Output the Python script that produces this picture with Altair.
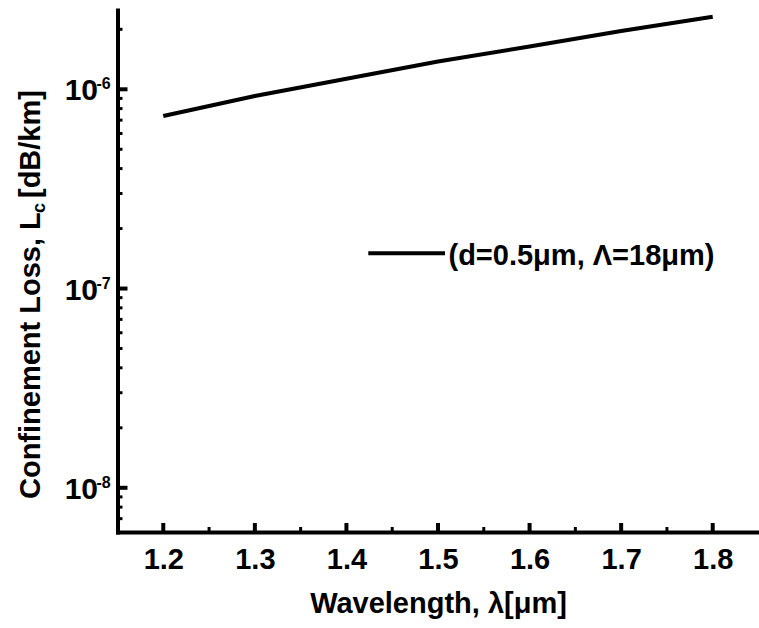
import altair as alt
import pandas as pd

# Confinement loss of the fibre versus wavelength
wavelength = [1.2, 1.3, 1.4, 1.5, 1.6, 1.7, 1.8]
loss = [7.35e-7, 9.26e-7, 1.13e-6, 1.38e-6, 1.64e-6, 1.96e-6, 2.31e-6]
series_label = "(d=0.5μm, Λ=18μm)"

# Tick positions (major and minor)
x_major = [1.2, 1.3, 1.4, 1.5, 1.6, 1.7, 1.8]
x_minor = [1.25, 1.35, 1.45, 1.55, 1.65, 1.75]
y_major = [1e-8, 1e-7, 1e-6]
y_exponents = ["-8", "-7", "-6"]
y_minor = [7e-9, 8e-9, 9e-9,
           2e-8, 3e-8, 4e-8, 5e-8, 6e-8, 7e-8, 8e-8, 9e-8,
           2e-7, 3e-7, 4e-7, 5e-7, 6e-7, 7e-7, 8e-7, 9e-7,
           2e-6]

x_title = "Wavelength, λ[μm]"
y_title_main = "Confinement Loss, L"
y_title_sub = "c"
y_title_unit = "[dB/km]"

W, H = 641, 522
FONT = "Liberation Sans"

x_scale = alt.Scale(domain=[1.15, 1.85], nice=False, zero=False)
y_scale = alt.Scale(type="log", domain=[6e-9, 2.5e-6], nice=False)

x_axis = alt.Axis(
    values=x_major, format=".1f", ticks=False, grid=False,
    domainWidth=4, domainColor="black", domainCap="square",
    labelFont=FONT, labelFontSize=29, labelFontWeight="bold", labelColor="black",
    labelPadding=13, labelFlush=False,
    title=x_title, titleFont=FONT, titleFontSize=29, titleFontWeight="bold",
    titleColor="black", titleY=80, titleBaseline="alphabetic",
)
y_axis = alt.Axis(
    labels=False, ticks=False, grid=False, title="",
    domainWidth=4, domainColor="black", domainCap="square",
)


def xq(field):
    return alt.X(field, type="quantitative", scale=x_scale, axis=x_axis)


def yq(field):
    return alt.Y(field, type="quantitative", scale=y_scale, axis=y_axis)


df = pd.DataFrame({"wavelength": wavelength, "loss": loss})

line = alt.Chart(df).mark_line(color="black", strokeWidth=4).encode(
    x=xq("wavelength"), y=yq("loss"))

# Inward-pointing ticks
ymaj = alt.Chart(pd.DataFrame({"v": y_major})).mark_rule(color="black", strokeWidth=4).encode(
    y=yq("v"), x=alt.value(0), x2=alt.value(10))
ymin = alt.Chart(pd.DataFrame({"v": y_minor})).mark_rule(color="black", strokeWidth=3).encode(
    y=yq("v"), x=alt.value(0), x2=alt.value(5))
xmaj = alt.Chart(pd.DataFrame({"v": x_major})).mark_rule(color="black", strokeWidth=4).encode(
    x=xq("v"), y=alt.value(H), y2=alt.value(H - 9))
xmin = alt.Chart(pd.DataFrame({"v": x_minor})).mark_rule(color="black", strokeWidth=3).encode(
    x=xq("v"), y=alt.value(H), y2=alt.value(H - 5))

# Power-of-ten tick labels
ylab_df = pd.DataFrame({"v": y_major, "base": ["10"] * len(y_major), "exp": y_exponents})
ylab_base = alt.Chart(ylab_df).mark_text(
    font=FONT, fontSize=30, fontWeight="bold", color="black",
    align="right", baseline="alphabetic", dy=11,
).encode(y=yq("v"), x=alt.value(-19.5), text="base:N")
ylab_exp = alt.Chart(ylab_df).mark_text(
    font=FONT, fontSize=16, fontWeight="bold", color="black",
    align="left", baseline="alphabetic", dy=0,
).encode(y=yq("v"), x=alt.value(-21), text="exp:N")

# Y axis title with subscript
title_df = pd.DataFrame({"main": [y_title_main], "sub": [y_title_sub], "unit": [y_title_unit]})
yt_main = alt.Chart(title_df).mark_text(
    font=FONT, fontSize=29, fontWeight="bold", color="black",
    angle=270, align="left", baseline="alphabetic",
).encode(text="main:N", x=alt.value(-77.5), y=alt.value(489))
yt_sub = alt.Chart(title_df).mark_text(
    font=FONT, fontSize=18, fontWeight="bold", color="black",
    angle=270, align="left", baseline="alphabetic",
).encode(text="sub:N", x=alt.value(-73), y=alt.value(203))
yt_unit = alt.Chart(title_df).mark_text(
    font=FONT, fontSize=29, fontWeight="bold", color="black",
    angle=270, align="left", baseline="alphabetic",
).encode(text="unit:N", x=alt.value(-77.5), y=alt.value(188))

# Legend entry
leg_df = pd.DataFrame({"label": [series_label]})
leg_line = alt.Chart(leg_df).mark_rule(color="black", strokeWidth=4).encode(
    x=alt.value(250.8), x2=alt.value(327.5), y=alt.value(243.3))
leg_text = alt.Chart(leg_df).mark_text(
    font=FONT, fontSize=29, fontWeight="bold", color="black",
    align="left", baseline="alphabetic",
).encode(text="label:N", x=alt.value(331), y=alt.value(255))

chart = alt.layer(
    line, ymaj, ymin, xmaj, xmin, ylab_base, ylab_exp,
    yt_main, yt_sub, yt_unit, leg_line, leg_text,
).properties(
    width=W, height=H,
    autosize="none",
    padding={"left": 117.5, "top": 10, "right": 0, "bottom": 96},
).configure_view(stroke=None)

chart.save("out.html", embed_options={"renderer": "svg", "actions": False})
